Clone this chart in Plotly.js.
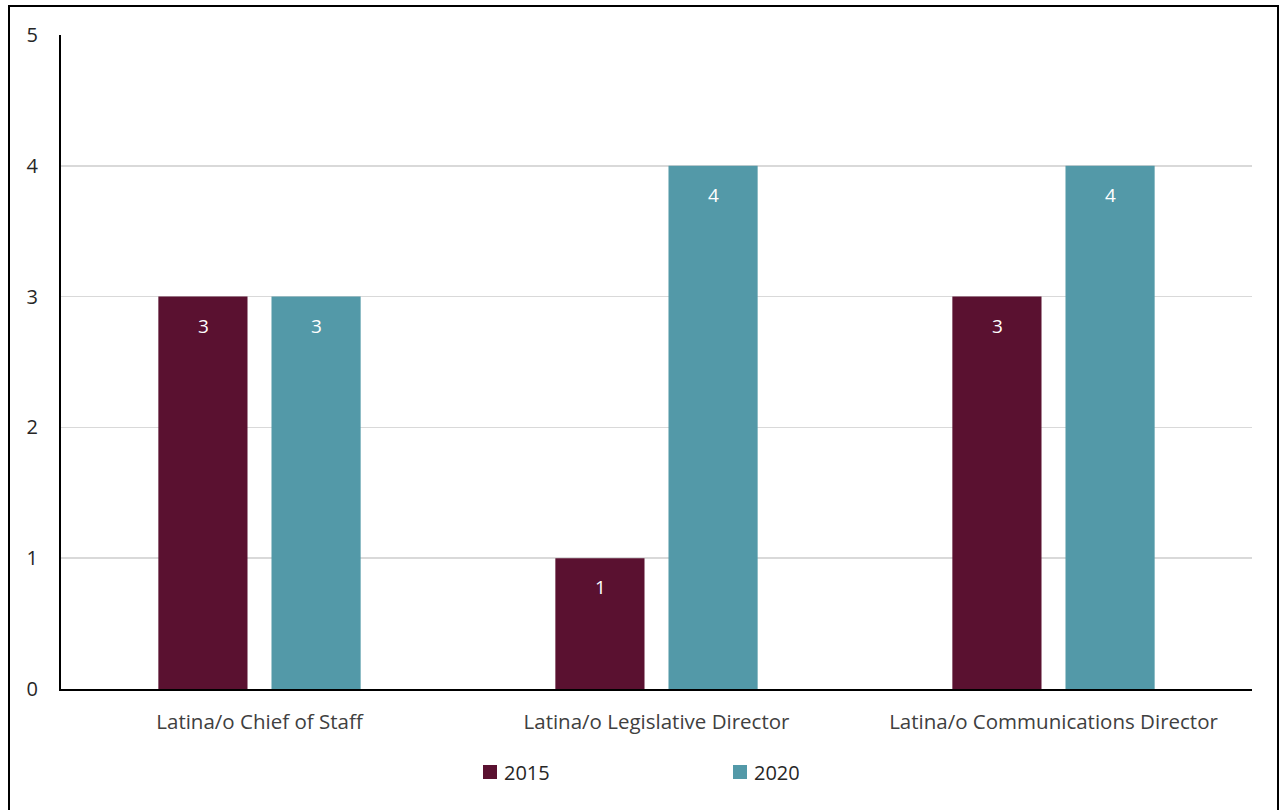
<!DOCTYPE html>
<html>
<head>
<meta charset="utf-8">
<script src="https://cdn.plot.ly/plotly-3.0.1.min.js"></script>
<style>
html,body{margin:0;padding:0;background:#fff;overflow:hidden;}
#wrap{position:relative;width:1283px;height:810px;}
#chart{width:1283px;height:810px;}
#frame{position:absolute;left:8px;top:5px;width:1271px;height:820px;border:2px solid #000;pointer-events:none;box-sizing:border-box;}
</style>
</head>
<body>
<div id="wrap">
<div id="chart"></div>
<div id="frame"></div>
</div>
<script>
const categories = ["Latina/o Chief of Staff", "Latina/o Legislative Director", "Latina/o Communications Director"];
const series2015 = [3, 1, 3];
const series2020 = [3, 4, 4];
const seriesNames = ["2015", "2020"];
const seriesColors = ["#5A1130", "#5399A8"];
const yTicks = [0, 1, 2, 3, 4, 5];

const font = "'Open Sans', 'Noto Sans', sans-serif";
const allSeries = [series2015, series2020];

const traces = allSeries.map((vals, i) => ({
  type:'bar', name: seriesNames[i], x: categories, y: vals,
  marker:{color: seriesColors[i]}, hoverinfo:'none', showlegend:false
}));

// value labels inside the top of each bar
const barOffsets = [-56.5, 56.5];
const annotations = [];
allSeries.forEach((vals, i) => {
  vals.forEach((v, j) => {
    annotations.push({x: categories[j], y: v, xref:'x', yref:'y', text: String(v),
      showarrow:false, xshift: barOffsets[i], yshift:-29, yanchor:'middle',
      font:{family:font, size:19, color:'#ffffff'}});
  });
});

// legend drawn in paper coords
const px = p => (p - 61) / 1191;
const py = p => (689 - p) / 654;
const legendSq = [483, 733];
const shapes = [];
seriesNames.forEach((n, i) => {
  shapes.push({type:'rect', xref:'paper', yref:'paper', x0: px(legendSq[i]), x1: px(legendSq[i] + 14),
    y0: py(779), y1: py(765), fillcolor: seriesColors[i], line:{width:0}});
  annotations.push({xref:'paper', yref:'paper', x: px(legendSq[i] + 19), y: py(772), xanchor:'left', yanchor:'middle',
    text: n, showarrow:false, font:{family:font, size:20, color:'#262626'}});
});

const layout = {
  width:1283, height:810,
  margin:{l:61, r:31, t:35, b:121},
  paper_bgcolor:'#ffffff', plot_bgcolor:'#ffffff',
  barmode:'group', bargap:0.43, bargroupgap:0.212,
  font:{family:font, color:'#333333', size:17},
  xaxis:{showline:true, linecolor:'#000000', linewidth:2, showgrid:false, ticks:'',
         tickfont:{size:20.5, color:'#404040'}, ticklabelstandoff:13},
  yaxis:{range:[0,5], tickvals:yTicks, showline:true, linecolor:'#000000', linewidth:2,
         showgrid:true, gridcolor:'#d9d9d9', gridwidth:1.5, zeroline:false, ticks:'',
         tickfont:{size:20, color:'#262626'}, ticklabelstandoff:17},
  annotations: annotations,
  shapes: shapes,
  showlegend:false
};

Plotly.newPlot('chart', traces, layout, {displayModeBar:false, staticPlot:true});
</script>
</body>
</html>
